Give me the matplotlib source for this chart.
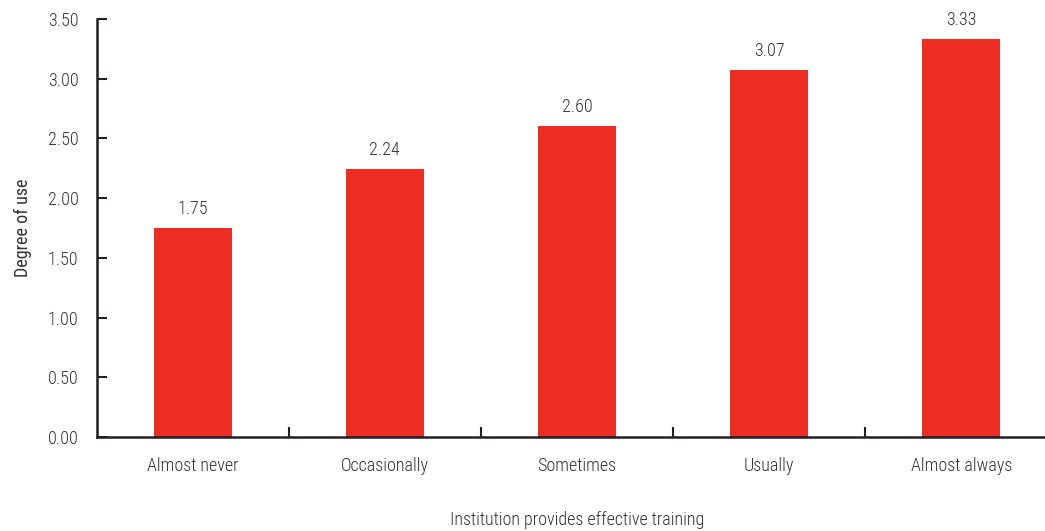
import matplotlib
matplotlib.use("Agg")
import matplotlib.pyplot as plt
from matplotlib import font_manager

categories = ["Almost never", "Occasionally", "Sometimes", "Usually", "Almost always"]
values = [1.75, 2.24, 2.60, 3.07, 3.33]
yticks = [0.0, 0.5, 1.0, 1.5, 2.0, 2.5, 3.0, 3.5]

names = {f.name for f in font_manager.fontManager.ttflist}
fam = "DejaVu Sans"
for cand in ["Roboto Condensed", "Archivo Narrow", "Liberation Sans Narrow",
             "Barlow Semi Condensed", "Open Sans Condensed"]:
    if cand in names:
        fam = cand
        break
plt.rcParams['font.family'] = [fam, 'DejaVu Sans']
plt.rcParams['font.weight'] = 'light' if fam == "Roboto Condensed" else 'normal'

txt = "#333333"
axc = "#231f20"
fs = 13
fig = plt.figure(figsize=(10.45, 5.31), dpi=100)
ax = fig.add_axes([96.5/1045, 94/531, 1 - 96.5/1045, (437-19)/531])

x = list(range(len(categories)))
ax.bar(x, values, width=0.406, color="#EE2E24", zorder=2)
for xi, v in zip(x, values):
    ax.annotate(f"{v:.2f}", (xi, v), xytext=(0, 7.5), textcoords="offset points",
                ha="center", va="bottom", fontsize=fs, color=txt)

ax.set_xlim(-0.5, 4.435)
ax.set_ylim(0, 3.5)
ax.set_yticks(yticks)
ax.set_yticklabels([f"{t:.2f}" for t in yticks], fontsize=fs, color=txt)
ax.set_xticks(x)
ax.set_xticklabels(categories, fontsize=fs, color=txt)
ax.tick_params(axis='x', which='major', length=0, pad=14.5)
ax.set_xticks([0.5, 1.5, 2.5, 3.5], minor=True)
ax.tick_params(axis='x', which='minor', direction='in', length=7, width=1.5, color=axc)
ax.tick_params(axis='y', direction='in', length=7, width=1.5, color=axc, pad=13)

for s in ['top', 'right']:
    ax.spines[s].set_visible(False)
for s in ['left', 'bottom']:
    ax.spines[s].set_color(axc)
    ax.spines[s].set_linewidth(1.8)

ax.set_ylabel("Degree of use", fontsize=fs, color=txt, labelpad=11)
fig.text(577/1045, 1 - 520/531, "Institution provides effective training",
         ha="center", va="center", fontsize=fs, color=txt)

fig.savefig("out.png", dpi=100)
